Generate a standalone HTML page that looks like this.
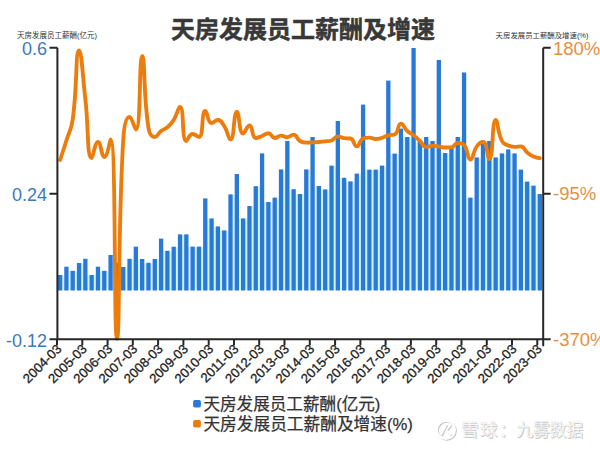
<!DOCTYPE html>
<html><head><meta charset="utf-8"><title>天房发展员工薪酬及增速</title>
<style>
html,body{margin:0;padding:0;background:#fff;}
svg{display:block;font-family:"Liberation Sans","Noto Sans CJK SC",sans-serif;}
</style></head><body>
<svg width="600" height="449" viewBox="0 0 600 449">
<rect width="600" height="449" fill="#fff"/>
<text x="303" y="37.8" text-anchor="middle" font-size="24" font-weight="bold" fill="#383838" stroke="#383838" stroke-width="0.5" stroke-linejoin="round">天房发展员工薪酬及增速</text>
<text x="17" y="37.8" font-size="7.5" fill="#333">天房发展员工薪酬(亿元)</text>
<text x="588.4" y="37.8" font-size="7.4" fill="#333" text-anchor="end">天房发展员工薪酬及增速(%)</text>
<g fill="#cff4ff">
<rect x="61.95" y="275.5" width="2.61" height="14.7"/>
<rect x="68.26" y="271.3" width="2.61" height="18.9"/>
<rect x="74.57" y="271.3" width="2.61" height="18.9"/>
<rect x="80.89" y="263.5" width="2.61" height="26.7"/>
<rect x="87.20" y="275.5" width="2.61" height="14.7"/>
<rect x="93.51" y="275.5" width="2.61" height="14.7"/>
<rect x="99.82" y="271.3" width="2.61" height="18.9"/>
<rect x="106.13" y="271.3" width="2.61" height="18.9"/>
<rect x="112.45" y="263.3" width="2.61" height="26.9"/>
<rect x="118.76" y="267.5" width="2.61" height="22.7"/>
<rect x="125.07" y="267.5" width="2.61" height="22.7"/>
<rect x="131.38" y="259.3" width="2.61" height="30.9"/>
<rect x="137.69" y="259.5" width="2.61" height="30.7"/>
<rect x="144.01" y="263.3" width="2.61" height="26.9"/>
<rect x="150.32" y="263.3" width="2.61" height="26.9"/>
<rect x="156.63" y="259.5" width="2.61" height="30.7"/>
<rect x="162.94" y="251.3" width="2.61" height="38.9"/>
<rect x="169.25" y="251.3" width="2.61" height="38.9"/>
<rect x="175.57" y="247.2" width="2.61" height="43.0"/>
<rect x="181.88" y="234.9" width="2.61" height="55.3"/>
<rect x="188.19" y="247.1" width="2.61" height="43.1"/>
<rect x="194.50" y="247.1" width="2.61" height="43.1"/>
<rect x="200.81" y="247.1" width="2.61" height="43.1"/>
<rect x="207.13" y="218.9" width="2.61" height="71.3"/>
<rect x="213.44" y="226.9" width="2.61" height="63.3"/>
<rect x="219.75" y="230.9" width="2.61" height="59.3"/>
<rect x="226.06" y="230.9" width="2.61" height="59.3"/>
<rect x="232.37" y="194.9" width="2.61" height="95.3"/>
<rect x="238.69" y="218.9" width="2.61" height="71.3"/>
<rect x="245.00" y="218.9" width="2.61" height="71.3"/>
<rect x="251.31" y="206.5" width="2.61" height="83.7"/>
<rect x="257.62" y="186.7" width="2.61" height="103.5"/>
<rect x="263.93" y="202.5" width="2.61" height="87.7"/>
<rect x="270.25" y="202.5" width="2.61" height="87.7"/>
<rect x="276.56" y="198.1" width="2.61" height="92.1"/>
<rect x="282.87" y="169.9" width="2.61" height="120.3"/>
<rect x="289.18" y="189.7" width="2.61" height="100.5"/>
<rect x="295.49" y="194.5" width="2.61" height="95.7"/>
<rect x="301.81" y="194.5" width="2.61" height="95.7"/>
<rect x="308.12" y="169.9" width="2.61" height="120.3"/>
<rect x="314.43" y="186.5" width="2.61" height="103.7"/>
<rect x="320.74" y="189.9" width="2.61" height="100.3"/>
<rect x="327.05" y="189.9" width="2.61" height="100.3"/>
<rect x="333.37" y="166.1" width="2.61" height="124.1"/>
<rect x="339.68" y="178.3" width="2.61" height="111.9"/>
<rect x="345.99" y="181.9" width="2.61" height="108.3"/>
<rect x="352.30" y="181.9" width="2.61" height="108.3"/>
<rect x="358.61" y="174.1" width="2.61" height="116.1"/>
<rect x="364.93" y="170.1" width="2.61" height="120.1"/>
<rect x="371.24" y="170.1" width="2.61" height="120.1"/>
<rect x="377.55" y="170.1" width="2.61" height="120.1"/>
<rect x="383.86" y="166.1" width="2.61" height="124.1"/>
<rect x="390.17" y="154.1" width="2.61" height="136.1"/>
<rect x="396.49" y="154.1" width="2.61" height="136.1"/>
<rect x="402.80" y="137.5" width="2.61" height="152.7"/>
<rect x="409.11" y="137.5" width="2.61" height="152.7"/>
<rect x="415.42" y="141.5" width="2.61" height="148.7"/>
<rect x="421.73" y="141.5" width="2.61" height="148.7"/>
<rect x="428.05" y="141.5" width="2.61" height="148.7"/>
<rect x="434.36" y="141.5" width="2.61" height="148.7"/>
<rect x="440.67" y="153.5" width="2.61" height="136.7"/>
<rect x="446.98" y="153.5" width="2.61" height="136.7"/>
<rect x="453.29" y="149.5" width="2.61" height="140.7"/>
<rect x="459.61" y="137.5" width="2.61" height="152.7"/>
<rect x="465.92" y="198.1" width="2.61" height="92.1"/>
<rect x="472.23" y="198.1" width="2.61" height="92.1"/>
<rect x="478.54" y="157.9" width="2.61" height="132.3"/>
<rect x="484.85" y="141.5" width="2.61" height="148.7"/>
<rect x="491.17" y="157.9" width="2.61" height="132.3"/>
<rect x="497.48" y="157.9" width="2.61" height="132.3"/>
<rect x="503.79" y="153.9" width="2.61" height="136.3"/>
<rect x="510.10" y="153.9" width="2.61" height="136.3"/>
<rect x="516.41" y="170.1" width="2.61" height="120.1"/>
<rect x="522.73" y="182.1" width="2.61" height="108.1"/>
<rect x="529.04" y="186.1" width="2.61" height="104.1"/>
<rect x="535.35" y="194.5" width="2.61" height="95.7"/>
</g>
<g fill="#2979d6">
<rect x="57.95" y="275.0" width="4.3" height="15.5"/>
<rect x="64.26" y="266.7" width="4.3" height="23.8"/>
<rect x="70.57" y="270.8" width="4.3" height="19.7"/>
<rect x="76.89" y="263.0" width="4.3" height="27.5"/>
<rect x="83.20" y="258.8" width="4.3" height="31.7"/>
<rect x="89.51" y="275.0" width="4.3" height="15.5"/>
<rect x="95.82" y="266.7" width="4.3" height="23.8"/>
<rect x="102.13" y="270.8" width="4.3" height="19.7"/>
<rect x="108.45" y="255.0" width="4.3" height="35.5"/>
<rect x="114.76" y="262.8" width="4.3" height="27.7"/>
<rect x="121.07" y="267.0" width="4.3" height="23.5"/>
<rect x="127.38" y="258.8" width="4.3" height="31.7"/>
<rect x="133.69" y="246.7" width="4.3" height="43.8"/>
<rect x="140.01" y="259.0" width="4.3" height="31.5"/>
<rect x="146.32" y="262.8" width="4.3" height="27.7"/>
<rect x="152.63" y="259.0" width="4.3" height="31.5"/>
<rect x="158.94" y="238.6" width="4.3" height="51.9"/>
<rect x="165.25" y="250.8" width="4.3" height="39.7"/>
<rect x="171.57" y="246.7" width="4.3" height="43.8"/>
<rect x="177.88" y="234.4" width="4.3" height="56.1"/>
<rect x="184.19" y="234.4" width="4.3" height="56.1"/>
<rect x="190.50" y="246.6" width="4.3" height="43.9"/>
<rect x="196.81" y="246.6" width="4.3" height="43.9"/>
<rect x="203.13" y="198.4" width="4.3" height="92.1"/>
<rect x="209.44" y="218.4" width="4.3" height="72.1"/>
<rect x="215.75" y="226.4" width="4.3" height="64.1"/>
<rect x="222.06" y="230.4" width="4.3" height="60.1"/>
<rect x="228.37" y="194.4" width="4.3" height="96.1"/>
<rect x="234.69" y="174.0" width="4.3" height="116.5"/>
<rect x="241.00" y="218.4" width="4.3" height="72.1"/>
<rect x="247.31" y="206.0" width="4.3" height="84.5"/>
<rect x="253.62" y="186.2" width="4.3" height="104.3"/>
<rect x="259.93" y="153.4" width="4.3" height="137.1"/>
<rect x="266.25" y="202.0" width="4.3" height="88.5"/>
<rect x="272.56" y="197.6" width="4.3" height="92.9"/>
<rect x="278.87" y="169.4" width="4.3" height="121.1"/>
<rect x="285.18" y="141.0" width="4.3" height="149.5"/>
<rect x="291.49" y="189.2" width="4.3" height="101.3"/>
<rect x="297.81" y="194.0" width="4.3" height="96.5"/>
<rect x="304.12" y="169.4" width="4.3" height="121.1"/>
<rect x="310.43" y="137.0" width="4.3" height="153.5"/>
<rect x="316.74" y="186.0" width="4.3" height="104.5"/>
<rect x="323.05" y="189.4" width="4.3" height="101.1"/>
<rect x="329.37" y="165.6" width="4.3" height="124.9"/>
<rect x="335.68" y="121.0" width="4.3" height="169.5"/>
<rect x="341.99" y="177.8" width="4.3" height="112.7"/>
<rect x="348.30" y="181.4" width="4.3" height="109.1"/>
<rect x="354.61" y="173.6" width="4.3" height="116.9"/>
<rect x="360.93" y="104.6" width="4.3" height="185.9"/>
<rect x="367.24" y="169.6" width="4.3" height="120.9"/>
<rect x="373.55" y="169.6" width="4.3" height="120.9"/>
<rect x="379.86" y="165.6" width="4.3" height="124.9"/>
<rect x="386.17" y="80.6" width="4.3" height="209.9"/>
<rect x="392.49" y="153.6" width="4.3" height="136.9"/>
<rect x="398.80" y="128.6" width="4.3" height="161.9"/>
<rect x="405.11" y="137.0" width="4.3" height="153.5"/>
<rect x="411.42" y="48.0" width="4.3" height="242.5"/>
<rect x="417.73" y="141.0" width="4.3" height="149.5"/>
<rect x="424.05" y="137.0" width="4.3" height="153.5"/>
<rect x="430.36" y="141.0" width="4.3" height="149.5"/>
<rect x="436.67" y="60.0" width="4.3" height="230.5"/>
<rect x="442.98" y="153.0" width="4.3" height="137.5"/>
<rect x="449.29" y="149.0" width="4.3" height="141.5"/>
<rect x="455.61" y="137.0" width="4.3" height="153.5"/>
<rect x="461.92" y="72.5" width="4.3" height="218.0"/>
<rect x="468.23" y="197.6" width="4.3" height="92.9"/>
<rect x="474.54" y="157.4" width="4.3" height="133.1"/>
<rect x="480.85" y="141.0" width="4.3" height="149.5"/>
<rect x="487.17" y="141.0" width="4.3" height="149.5"/>
<rect x="493.48" y="157.4" width="4.3" height="133.1"/>
<rect x="499.79" y="153.4" width="4.3" height="137.1"/>
<rect x="506.10" y="149.4" width="4.3" height="141.1"/>
<rect x="512.41" y="153.4" width="4.3" height="137.1"/>
<rect x="518.73" y="169.6" width="4.3" height="120.9"/>
<rect x="525.04" y="181.6" width="4.3" height="108.9"/>
<rect x="531.35" y="185.6" width="4.3" height="104.9"/>
<rect x="537.66" y="194.0" width="4.3" height="96.5"/>
</g>
<path d="M60.10,160.00C60.10,160.00 63.36,150.28 66.41,140.50C69.67,130.03 71.21,130.32 72.72,119.50C77.52,85.32 75.34,50.50 79.04,50.50C81.65,50.50 82.50,74.71 85.35,99.00C88.81,128.46 86.77,158.00 91.66,158.00C93.08,158.00 94.73,142.00 97.97,142.00C101.04,142.00 101.34,157.00 104.28,157.00C107.65,157.00 110.06,139.50 110.60,139.50C116.37,139.50 113.75,338.80 116.91,338.80C120.06,338.80 117.58,239.03 123.22,140.00C123.90,128.13 125.56,117.00 129.53,117.00C131.87,117.00 134.84,129.50 135.84,129.50C141.15,129.50 138.97,56.00 142.16,56.00C145.28,56.00 142.99,92.85 148.47,128.00C149.30,133.35 151.26,137.00 154.78,137.00C157.57,137.00 157.66,133.64 161.09,131.00C163.97,128.79 164.68,129.67 167.40,127.30C170.99,124.17 171.19,124.06 173.72,120.00C177.50,113.91 178.17,107.00 180.03,107.00C184.48,107.00 181.38,141.00 186.34,141.00C187.69,141.00 189.03,134.00 192.65,134.00C195.34,134.00 197.66,137.00 198.96,137.00C203.97,137.00 201.09,111.00 205.28,111.00C207.40,111.00 207.42,123.00 211.59,123.00C213.73,123.00 215.09,120.00 217.90,120.00C221.40,120.00 221.88,122.40 224.21,126.00C228.20,132.15 228.34,139.50 230.52,139.50C234.65,139.50 233.32,112.00 236.84,112.00C239.63,112.00 238.81,133.50 243.15,133.50C245.12,133.50 246.80,125.50 249.46,125.50C253.11,125.50 251.49,138.00 255.77,138.00C257.80,138.00 258.99,137.17 262.08,136.00C265.31,134.77 265.46,133.20 268.40,133.20C271.77,133.20 271.30,138.00 274.71,138.00C277.61,138.00 277.81,135.60 281.02,135.60C284.12,135.60 284.25,137.20 287.33,137.20C290.56,137.20 290.92,134.60 293.64,134.60C297.23,134.60 296.30,138.79 299.96,141.00C302.61,142.60 303.06,142.60 306.27,142.60C309.38,142.60 309.43,142.55 312.58,142.40C315.74,142.25 315.74,142.25 318.89,142.00C322.05,141.75 322.06,141.77 325.20,141.40C328.37,141.02 328.62,141.40 331.52,140.50C334.93,139.44 334.46,136.40 337.83,136.40C340.77,136.40 340.92,137.89 344.14,138.20C347.24,138.50 348.02,138.20 350.45,138.50C354.34,138.98 353.61,146.40 356.76,146.40C359.92,146.40 359.20,139.93 363.08,138.50C365.52,137.60 366.25,137.60 369.39,137.60C372.57,137.60 372.53,139.00 375.70,139.00C378.85,139.00 378.94,138.70 382.01,137.80C385.25,136.85 385.07,136.15 388.32,135.30C391.38,134.50 392.52,135.30 394.64,134.50C398.83,132.92 397.39,123.60 400.95,123.60C403.70,123.60 403.72,127.72 407.26,131.00C410.04,133.57 410.59,132.93 413.57,135.30C416.90,137.93 416.74,138.14 419.88,141.00C423.05,143.89 422.58,146.80 426.20,146.80C428.89,146.80 429.34,145.80 432.51,145.80C435.65,145.80 435.67,146.08 438.82,146.50C441.99,146.93 441.96,147.50 445.13,147.50C448.27,147.50 448.60,147.50 451.44,147.40C454.91,147.28 454.36,143.00 457.76,143.00C460.68,143.00 462.21,143.00 464.07,145.00C468.52,149.80 467.08,159.60 470.38,159.60C473.39,159.60 472.57,152.24 476.69,146.50C478.89,143.44 481.11,142.00 483.00,142.00C487.43,142.00 487.33,159.00 489.32,159.00C493.64,159.00 491.57,120.00 495.63,120.00C497.88,120.00 497.28,131.58 501.94,141.00C503.59,144.33 504.81,143.94 508.25,145.50C511.12,146.80 511.38,146.80 514.56,146.80C517.69,146.80 518.24,146.30 520.88,146.30C524.56,146.30 523.78,149.72 527.19,152.50C530.09,154.87 530.12,155.07 533.50,156.60C536.43,157.92 539.81,158.20 539.81,158.20" fill="none" stroke="#ec7c0c" stroke-width="3.85" stroke-linejoin="round" stroke-linecap="round"/>
<g stroke="#262626" stroke-width="2" fill="none">
<path d="M57.4,47.7V339.3"/>
<path d="M543.2,47.7V339.3"/>
<path d="M49.5,339.3H550.7"/>
<path d="M49.5,47.7h7.9M49.5,193.8h7.9"/>
<path d="M543.2,47.7h7.5M543.2,193.8h7.5"/>
<path d="M57.0,339.3v6M82.3,339.3v6M107.6,339.3v6M132.8,339.3v6M158.1,339.3v6M183.4,339.3v6M208.7,339.3v6M234.0,339.3v6M259.2,339.3v6M284.5,339.3v6M309.8,339.3v6M335.1,339.3v6M360.4,339.3v6M385.6,339.3v6M410.9,339.3v6M436.2,339.3v6M461.5,339.3v6M486.8,339.3v6M512.0,339.3v6M537.3,339.3v6M543.2,339.3v7"/>
</g>
<g font-size="18" fill="#3b7abb" text-anchor="end">
<text x="47" y="54.6">0.6</text>
<text x="47" y="200.7">0.24</text>
<text x="47" y="346.6">-0.12</text>
</g>
<g font-size="18.5" fill="#e5903f">
<text x="553" y="54.6">180%</text>
<text x="553" y="200.4">-95%</text>
<text x="553" y="346.4">-370%</text>
</g>
<g font-size="13.2" fill="#222" stroke="#222" stroke-width="0.3">
<text transform="translate(62.5,349.7) rotate(-45)" text-anchor="end">2004-03</text>
<text transform="translate(87.8,349.7) rotate(-45)" text-anchor="end">2005-03</text>
<text transform="translate(113.1,349.7) rotate(-45)" text-anchor="end">2006-03</text>
<text transform="translate(138.3,349.7) rotate(-45)" text-anchor="end">2007-03</text>
<text transform="translate(163.6,349.7) rotate(-45)" text-anchor="end">2008-03</text>
<text transform="translate(188.9,349.7) rotate(-45)" text-anchor="end">2009-03</text>
<text transform="translate(214.2,349.7) rotate(-45)" text-anchor="end">2010-03</text>
<text transform="translate(239.5,349.7) rotate(-45)" text-anchor="end">2011-03</text>
<text transform="translate(264.7,349.7) rotate(-45)" text-anchor="end">2012-03</text>
<text transform="translate(290.0,349.7) rotate(-45)" text-anchor="end">2013-03</text>
<text transform="translate(315.3,349.7) rotate(-45)" text-anchor="end">2014-03</text>
<text transform="translate(340.6,349.7) rotate(-45)" text-anchor="end">2015-03</text>
<text transform="translate(365.9,349.7) rotate(-45)" text-anchor="end">2016-03</text>
<text transform="translate(391.1,349.7) rotate(-45)" text-anchor="end">2017-03</text>
<text transform="translate(416.4,349.7) rotate(-45)" text-anchor="end">2018-03</text>
<text transform="translate(441.7,349.7) rotate(-45)" text-anchor="end">2019-03</text>
<text transform="translate(467.0,349.7) rotate(-45)" text-anchor="end">2020-03</text>
<text transform="translate(492.3,349.7) rotate(-45)" text-anchor="end">2021-03</text>
<text transform="translate(517.5,349.7) rotate(-45)" text-anchor="end">2022-03</text>
<text transform="translate(542.8,349.7) rotate(-45)" text-anchor="end">2023-03</text>
</g>
<rect x="193.1" y="400.1" width="7.8" height="7.4" rx="1.8" fill="#2979d6"/>
<rect x="193.1" y="420.1" width="7.8" height="7.4" rx="1.8" fill="#ec7c0c"/>
<g font-size="16.6" fill="#333" stroke="#333" stroke-width="0.25">
<text x="203.4" y="410">天房发展员工薪酬(亿元)</text>
<text x="203.4" y="430" font-size="16.7">天房发展员工薪酬及增速(%)</text>
</g>
<g font-size="17.5" fill="#c2c2c2" stroke="none" transform="translate(0.9,0.9)">
<circle cx="446" cy="429.9" r="9" fill="none" stroke="#c2c2c2" stroke-width="2"/>
<path d="M441,435.2L446.4,424.4M445.8,430.2L451.2,434.8M446.2,430L450.8,424.8" stroke="#c2c2c2" stroke-width="1.8" fill="none"/>
<text x="461" y="436.4" letter-spacing="1.4">雪球：</text><text x="516.3" y="436.4" font-size="16.7">九雾数据</text>
</g>
<g font-size="17.5" fill="#fff" stroke="#e4e4e4" stroke-width="0.4">
<circle cx="446" cy="429.9" r="9" fill="none" stroke="#fff" stroke-width="2"/>
<path d="M441,435.2L446.4,424.4M445.8,430.2L451.2,434.8M446.2,430L450.8,424.8" stroke="#fff" stroke-width="1.8" fill="none"/>
<text x="461" y="436.4" letter-spacing="1.4">雪球：</text><text x="516.3" y="436.4" font-size="16.7">九雾数据</text>
</g>
</svg>
</body></html>
